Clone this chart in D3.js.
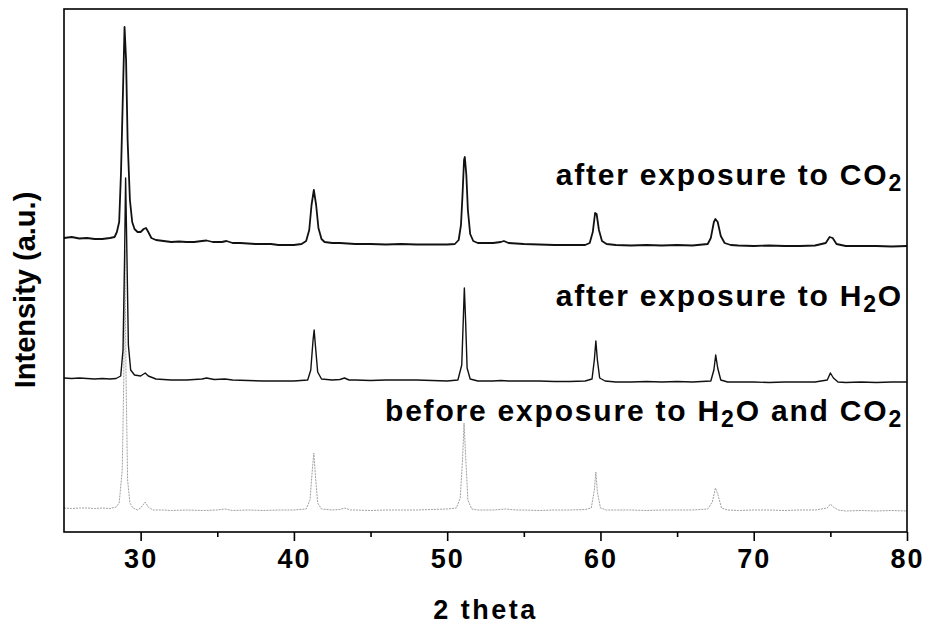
<!DOCTYPE html>
<html>
<head>
<meta charset="utf-8">
<script src="https://cdn.jsdelivr.net/npm/d3@7"></script>
<style>
  html, body { margin: 0; padding: 0; background: #fff; }
  svg text { font-family: "Liberation Sans", Arial, sans-serif; font-weight: bold; fill: #000; }
</style>
</head>
<body>
<svg id="chart" width="929" height="626"></svg>
<script>
// XRD patterns, [2 theta, intensity (a.u., stacked offsets included)]
const afterCO2 = [
  [25.0,294],[25.5,295],[26.0,293.5],[26.5,294],[27.0,293],[27.5,293],[28.0,294],[28.3,295],
  [28.45,300],[28.6,310],[28.72,360],[28.85,442],[28.95,505],[29.05,472],[29.15,392],[29.3,332],
  [29.45,310],[29.6,303],[29.8,300],[30.0,300],[30.2,303],[30.35,304],[30.5,300],[30.7,294],
  [31.0,292],[31.5,291],[32.0,290],[32.5,290.5],[33.0,290],[33.5,290],[34.0,291],[34.3,291.5],
  [34.7,290],[35.3,290],[35.6,291],[36.0,289],[36.5,289],[37.0,288.5],[37.5,288],[38.0,288],
  [38.5,288],[39.0,287],[39.5,287],[40.0,287],[40.5,288],[40.8,291],[41.0,302],[41.15,327],
  [41.3,342],[41.45,327],[41.6,304],[41.8,293],[42.0,290],[42.5,289],[43.0,289],[43.5,288.5],
  [44.0,288],[45.0,288],[46.0,287.5],[47.0,288],[48.0,287.5],[49.0,287.5],[50.0,287.5],[50.5,288],
  [50.75,292],[50.9,307],[51.0,337],[51.1,372],[51.15,375],[51.25,357],[51.35,322],[51.5,298],
  [51.7,291],[52.0,289],[53.0,289],[53.5,290],[53.7,291],[54.0,289],[55.0,288],[56.0,287.5],
  [57.0,287],[58.0,287],[59.0,287],[59.3,289],[59.5,300],[59.65,319],[59.75,318],[59.9,302],
  [60.1,291],[60.4,288],[61.0,287],[62.0,286.5],[63.0,287],[64.0,286.5],[65.0,287],[66.0,286.5],
  [67.0,288],[67.2,294],[67.4,310],[67.5,313],[67.65,310],[67.85,296],[68.1,289],[68.5,287],
  [69.0,286.5],[70.0,286],[71.0,286.5],[72.0,286],[73.0,286],[74.0,286.5],[74.7,289],[74.95,295],
  [75.15,294],[75.4,288],[76.0,286],[77.0,286],[78.0,286],[79.0,285.5],[80.0,286]
];

const afterH2O = [
  [25.0,154],[25.5,153.5],[26.0,154],[26.5,153.5],[27.0,153],[27.5,153.5],[28.0,153],[28.4,153.5],
  [28.7,156],[28.85,182],[28.95,272],[29.02,354],[29.1,282],[29.2,187],[29.35,162],[29.6,157],
  [30.0,156],[30.3,159],[30.5,156],[31.0,153],[32.0,152],[33.0,152],[34.0,153],[34.3,154],
  [34.8,152.5],[35.5,153],[36.0,152],[37.0,151.5],[38.0,151],[39.0,151],[40.0,151],[40.9,152],
  [41.1,162],[41.25,192],[41.32,202],[41.4,187],[41.55,160],[41.8,153],[42.5,152],[43.0,152.5],
  [43.3,154],[43.6,152],[44.0,152],[45.0,151.5],[46.0,152],[47.0,152],[48.0,152],[49.0,151.5],
  [50.0,151],[50.7,152],[50.95,167],[51.05,212],[51.12,244],[51.2,212],[51.3,164],[51.5,153],
  [52.0,151],[53.0,151],[53.5,151.5],[54.0,151],[55.0,151],[56.0,151],[57.0,150.5],[58.0,150.5],
  [59.0,151],[59.45,153],[59.6,172],[59.7,191],[59.8,172],[59.95,154],[60.3,151],[61.0,150],
  [62.0,150],[63.0,150.5],[64.0,150],[65.0,150.5],[66.0,150],[67.2,151],[67.4,162],[67.52,177],
  [67.65,164],[67.85,152],[68.3,150],[69.0,150],[70.0,150],[71.0,149.5],[72.0,150],[73.0,150],
  [74.0,150],[74.8,152],[75.0,159],[75.2,154],[75.5,150],[76.0,149.5],[77.0,150],[78.0,149.5],
  [79.0,150],[80.0,150]
];

const beforeExposure = [
  [25.0,24],[25.5,23.5],[26.0,24],[26.5,24],[27.0,23.5],[27.5,24],[28.0,23.5],[28.4,25],
  [28.6,29],[28.8,62],[28.9,152],[28.97,282],[29.05,152],[29.15,52],[29.3,29],[29.5,24],
  [29.8,22],[30.0,24],[30.3,30],[30.5,25],[30.8,22],[31.5,22],[32.0,21.5],[33.0,22],
  [34.0,21.5],[35.0,22],[35.5,23],[36.0,21.5],[37.0,22],[38.0,21.5],[39.0,22],[40.0,22],
  [40.8,23],[41.05,32],[41.2,62],[41.3,79],[41.4,57],[41.55,29],[41.8,23],[42.5,22],
  [43.0,22.5],[43.3,24],[43.7,22],[44.0,22],[45.0,21.5],[46.0,22],[47.0,22],[48.0,22],
  [49.0,22.5],[50.0,23],[50.6,24],[50.85,34],[51.0,72],[51.1,109],[51.2,77],[51.35,32],
  [51.6,23],[52.0,22],[53.0,22],[53.8,23],[54.5,22],[55.0,22],[56.0,21.5],[57.0,22],
  [58.0,22],[59.0,22.5],[59.4,24],[59.6,42],[59.7,60],[59.8,40],[60.0,24],[60.4,22],
  [61.0,22],[62.0,22],[63.0,21.5],[64.0,22],[65.0,22],[66.0,22],[67.0,23],[67.3,30],
  [67.5,44],[67.65,38],[67.9,24],[68.3,22],[69.0,21.5],[70.0,22],[71.0,22],[72.0,21.5],
  [73.0,22],[74.0,22],[74.8,24],[75.0,28],[75.2,25],[75.5,22],[76.0,21],[77.0,21.5],
  [78.0,21],[79.0,21.5],[80.0,21]
];

const xMajorTicks = [30, 40, 50, 60, 70, 80];
const xMinorTicks = [35, 45, 55, 65, 75];
const xTitle = "2 theta";
const yTitle = "Intensity (a.u.)";

// Trace labels: main text plus subscripted parts
const traceLabels = [
  { parts: [["after exposure to CO", false], ["2", true]], baseline: 185 },
  { parts: [["after exposure to H", false], ["2", true], ["O", false]], baseline: 306 },
  { parts: [["before exposure to H", false], ["2", true], ["O and CO", false], ["2", true]], baseline: 421 }
];

const svg = d3.select("#chart");
const margin = { left: 64, right: 22, top: 9, bottom: 94 };
const W = 929, H = 626;
const x = d3.scaleLinear().domain([25, 80]).range([margin.left, W - margin.right]);
const y = d3.scaleLinear().domain([0, 523]).range([H - margin.bottom, margin.top]);

const line = d3.line().x(d => x(d[0])).y(d => y(d[1]));

// traces
svg.append("path").datum(beforeExposure)
  .attr("d", line).attr("fill", "none")
  .attr("stroke", "#a0a0a0").attr("stroke-width", 1).attr("stroke-dasharray", "2,1");
svg.append("path").datum(afterH2O)
  .attr("d", line).attr("fill", "none")
  .attr("stroke", "#111").attr("stroke-width", 1.4).attr("stroke-linejoin", "round");
svg.append("path").datum(afterCO2)
  .attr("d", line).attr("fill", "none")
  .attr("stroke", "#111").attr("stroke-width", 1.8).attr("stroke-linejoin", "round");

// frame
svg.append("rect")
  .attr("x", x(25)).attr("y", y(523))
  .attr("width", x(80) - x(25)).attr("height", y(0) - y(523))
  .attr("fill", "none").attr("stroke", "#000").attr("stroke-width", 1.6);

// x axis
const xAxis = d3.axisBottom(x).tickValues(xMajorTicks).tickSize(9).tickPadding(8)
  .tickFormat(d3.format("d"));
const gx = svg.append("g").attr("transform", `translate(0,${y(0)})`).call(xAxis);
gx.select(".domain").remove();
gx.selectAll(".tick line").attr("stroke", "#000").attr("stroke-width", 1.6);
gx.selectAll(".tick text")
  .style("font-size", "27px").style("letter-spacing", "2px").attr("fill", "#000");

const gxm = svg.append("g").attr("transform", `translate(0,${y(0)})`)
  .call(d3.axisBottom(x).tickValues(xMinorTicks).tickSize(5).tickFormat(""));
gxm.select(".domain").remove();
gxm.selectAll(".tick line").attr("stroke", "#000").attr("stroke-width", 1.6);

// axis titles
svg.append("text")
  .attr("x", x(52.5)).attr("y", 619)
  .attr("text-anchor", "middle")
  .style("font-size", "27px").style("letter-spacing", "2.5px")
  .text(xTitle);

svg.append("text")
  .attr("transform", `translate(35,${y(242)}) rotate(-90)`)
  .attr("text-anchor", "middle")
  .style("font-size", "29px")
  .text(yTitle);

// trace labels, right-aligned inside the frame
traceLabels.forEach(lbl => {
  const t = svg.append("text")
    .attr("x", x(80) - 4).attr("y", lbl.baseline)
    .attr("text-anchor", "end")
    .style("font-size", "30px").style("letter-spacing", "1.8px");
  lbl.parts.forEach(([s, sub]) => {
    const ts = t.append("tspan").text(s);
    if (sub) ts.attr("dy", 6).style("font-size", "23px");
    else ts.attr("dy", t.selectAll("tspan").size() > 1 ? -6 : 0);
  });
});
</script>
</body>
</html>
